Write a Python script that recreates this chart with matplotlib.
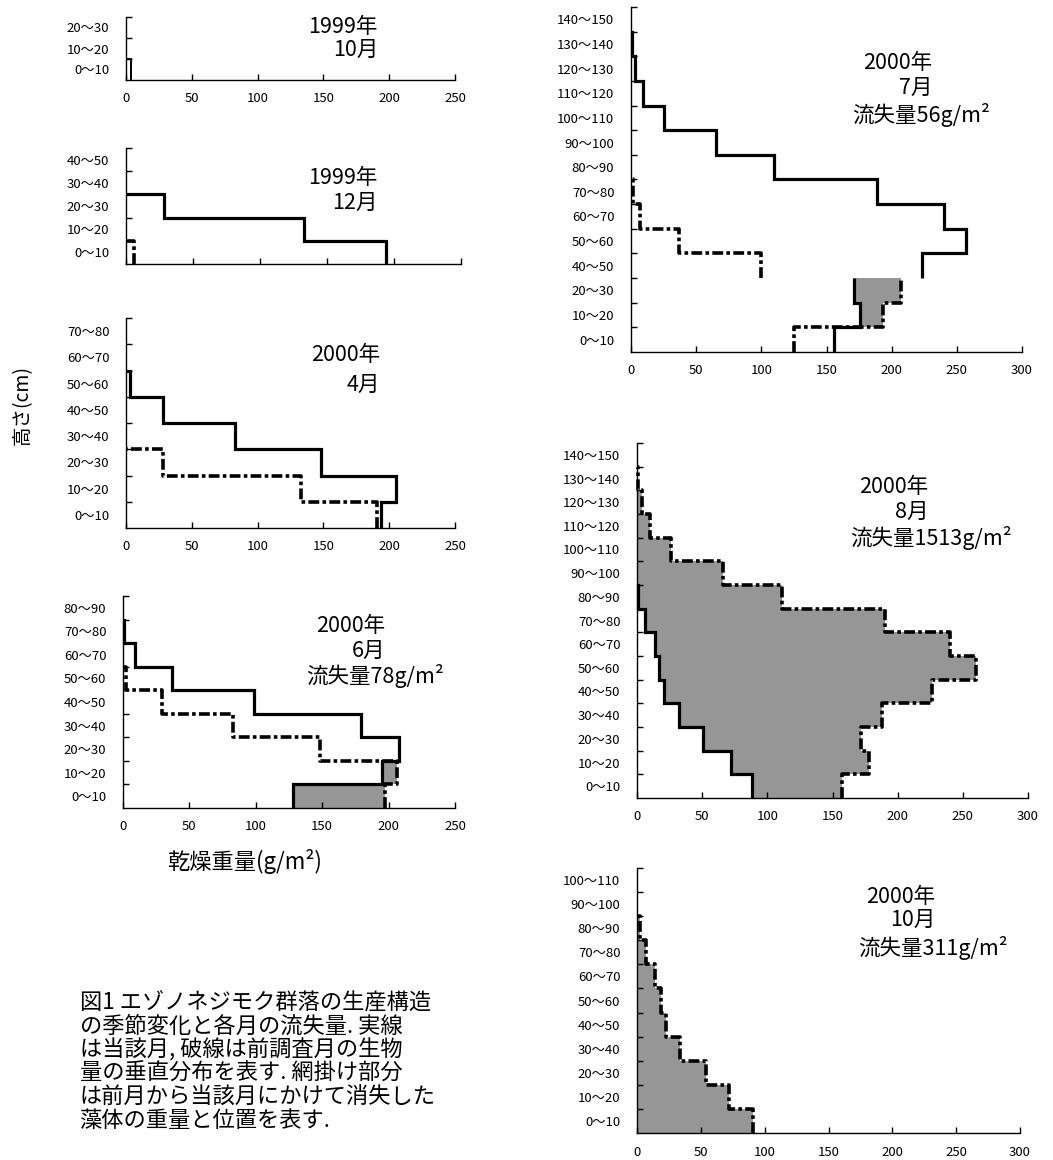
import numpy as np
import matplotlib
matplotlib.use('Agg')
import matplotlib.pyplot as plt

plt.rcParams['font.family'] = ['Noto Sans CJK JP', 'DejaVu Sans']

W, H = 1053, 1160
nan = np.nan

# ---------------- data ----------------
layers = ['0～10', '10～20', '20～30', '30～40', '40～50', '50～60', '60～70',
          '70～80', '80～90', '90～100', '100～110', '110～120', '120～130',
          '130～140', '140～150']
# July 2000 chart omits the 30~40 layer
jul_layers = ['0～10', '10～20', '20～30', '40～50', '50～60', '60～70',
              '70～80', '80～90', '90～100', '100～110', '110～120', '120～130',
              '130～140', '140～150']

oct99_cur = [4, nan, nan]

dec99_cur = [194, 133, 28, nan, nan]
dec99_prev = [6, nan, nan, nan, nan]

apr00_cur = [194, 205, 148, 83, 28, 3, nan, nan]
apr00_prev = [191, 133, 28, nan, nan, nan, nan, nan]

jun00_cur = [128, 195, 208, 179, 99, 37, 9, 1, nan]
jun00_prev = [197, 206, 148, 83, 29, 2, nan, nan, nan]

jul00_cur = [156, 176, 171, 223, 257, 240, 189, 110, 65, 25, 9.5, 3, 0.5, nan]
jul00_prev = [125, 193, 207, 100, 37, 7, 1.5, nan, nan, nan, nan, nan, nan, nan]
jul00_break = 3  # lines are interrupted below the 40~50 layer

aug00_cur = [88, 72, 51, 32, 21, 17, 13.5, 6, 1, nan, nan, nan, nan, nan, nan]
aug00_prev = [157, 178, 172, 188, 226, 260, 240, 190, 111, 66, 26, 10, 4, 0.7, nan]

oct00_cur = [nan, nan, nan, nan, nan, nan, nan, nan, nan, nan, nan]
oct00_prev = [91, 72, 54, 33.5, 23, 19, 14, 7.3, 2, nan, nan]

xticks_250 = [0, 50, 100, 150, 200, 250]
xticks_300 = [0, 50, 100, 150, 200, 250, 300]

titles = {
    'oct99': ('1999年', '10月', None),
    'dec99': ('1999年', '12月', None),
    'apr00': ('2000年', '4月', None),
    'jun00': ('2000年', '6月', '流失量78g/m²'),
    'jul00': ('2000年', '7月', '流失量56g/m²'),
    'aug00': ('2000年', '8月', '流失量1513g/m²'),
    'oct00': ('2000年', '10月', '流失量311g/m²'),
}

caption = ['図1 エゾノネジモク群落の生産構造',
           'の季節変化と各月の流失量. 実線',
           'は当該月, 破線は前調査月の生物',
           '量の垂直分布を表す. 網掛け部分',
           'は前月から当該月にかけて消失した',
           '藻体の重量と位置を表す.']

# ---------------- drawing helpers ----------------
GRAY = '#969696'
DASH = (0, (3.0, 0.9, 1.0, 0.9))
TICK_FS = 9.5

fig = plt.figure(figsize=(W / 100, H / 100), dpi=100)


def px_axes(l, r, t, b):
    return fig.add_axes([l / W, 1 - b / H, (r - l) / W, (b - t) / H])


def runs(vals, breaks=()):
    out, cur = [], []
    for i, v in enumerate(vals):
        if i in breaks and cur:
            out.append((cur, False))
            cur = []
        if np.isnan(v):
            if cur:
                out.append((cur, True))
                cur = []
        else:
            cur.append(i)
    if cur:
        out.append((cur, True))
    return out


def profile(ax, vals, lw, ls='-', breaks=()):
    vals = np.asarray(vals, float)
    for idx, close_top in runs(vals, breaks):
        xs, ys = [], []
        for i in idx:
            xs += [vals[i], vals[i]]
            ys += [i, i + 1]
        if close_top:
            xs.append(0)
            ys.append(idx[-1] + 1)
        ax.plot(xs, ys, color='black', lw=lw, ls=ls, solid_capstyle='butt',
                dash_capstyle='butt', solid_joinstyle='miter', zorder=3,
                clip_on=False)


def loss_fill(ax, cur, prev):
    c = np.nan_to_num(np.asarray(cur, float))
    p = np.nan_to_num(np.asarray(prev, float))
    for i in range(len(c)):
        if p[i] > c[i]:
            ax.fill_betweenx([i, i + 1], c[i], p[i], color=GRAY, lw=0, zorder=1)


def setup(ax, labels, xmax, xticks, show_xlabels=True):
    n = len(labels)
    ax.set_xlim(0, xmax)
    ax.set_ylim(0, n)
    for s in ('top', 'right'):
        ax.spines[s].set_visible(False)
    for s in ('left', 'bottom'):
        ax.spines[s].set_linewidth(1.0)
    ax.set_yticks(np.arange(1, n + 1))
    ax.set_yticklabels([])
    ax.set_yticks(np.arange(n) + 0.5, minor=True)
    ax.set_yticklabels(labels, minor=True, fontsize=TICK_FS)
    ax.tick_params(axis='y', which='major', direction='in', length=4, width=1)
    ax.tick_params(axis='y', which='minor', length=0, pad=12)
    ax.set_xticks(xticks)
    if show_xlabels:
        ax.set_xticklabels([str(t) for t in xticks], fontsize=TICK_FS)
    else:
        ax.set_xticklabels([])
    ax.tick_params(axis='x', direction='in', length=4, width=1, pad=9)
    ax.patch.set_alpha(0)


def title(lines, xr, y1, y2, x3=None, y3=None, fs=15.5):
    l1, l2, l3 = lines
    fig.text(xr / W, 1 - y1 / H, l1, ha='right', va='center', fontsize=fs)
    fig.text(xr / W, 1 - y2 / H, l2, ha='right', va='center', fontsize=fs)
    if l3:
        fig.text(x3 / W, 1 - y3 / H, l3, ha='left', va='center', fontsize=fs)


# ---------------- panels ----------------
axA = px_axes(126, 455, 17, 80)
setup(axA, layers[:3], 250, xticks_250)
profile(axA, oct99_cur, lw=1.4)
title(titles['oct99'], 378, 27, 50)

axB = px_axes(126, 461, 148, 264)
setup(axB, layers[:5], 250, xticks_250, show_xlabels=False)
profile(axB, dec99_prev, lw=2.6, ls=DASH)
profile(axB, dec99_cur, lw=2.3)
title(titles['dec99'], 378, 178, 203)

axC = px_axes(126, 455, 318, 528)
setup(axC, layers[:8], 250, xticks_250)
profile(axC, apr00_prev, lw=2.6, ls=DASH)
profile(axC, apr00_cur, lw=2.3)
title(titles['apr00'], 380, 355, 385)

axD = px_axes(123, 455, 596, 808)
setup(axD, layers[:9], 250, xticks_250)
loss_fill(axD, jun00_cur, jun00_prev)
profile(axD, jun00_prev, lw=2.6, ls=DASH)
profile(axD, jun00_cur, lw=2.3)
title(titles['jun00'], 385, 626, 651, 306, 676)

axE = px_axes(631, 1022, 7, 352)
setup(axE, jul_layers, 300, xticks_300)
loss_fill(axE, jul00_cur, jul00_prev)
profile(axE, jul00_prev, lw=2.6, ls=DASH, breaks=(jul00_break,))
profile(axE, jul00_cur, lw=2.3, breaks=(jul00_break,))
title(titles['jul00'], 932, 63, 88, 852, 115)

axF = px_axes(637, 1028, 443, 798)
setup(axF, layers[:15], 300, xticks_300)
loss_fill(axF, aug00_cur, aug00_prev)
profile(axF, aug00_prev, lw=2.6, ls=DASH)
profile(axF, aug00_cur, lw=2.3)
title(titles['aug00'], 928, 487, 512, 850, 538)

axG = px_axes(637, 1020, 868, 1133)
setup(axG, layers[:11], 300, xticks_300)
loss_fill(axG, oct00_cur, oct00_prev)
profile(axG, oct00_prev, lw=2.6, ls=DASH)
profile(axG, oct00_cur, lw=2.3)
title(titles['oct00'], 935, 897, 920, 858, 948)

# axis labels
fig.text(22 / W, 1 - 405 / H, '高さ(cm)', rotation=90, ha='center', va='center',
         fontsize=14)
fig.text(245 / W, 1 - 862 / H, '乾燥重量(g/m²)', ha='center', va='center',
         fontsize=16)

# caption
for k, line in enumerate(caption):
    fig.text(80 / W, 1 - (1003 + 23.5 * k) / H, line, ha='left', va='center',
             fontsize=16)

fig.savefig('out.png', dpi=100)
